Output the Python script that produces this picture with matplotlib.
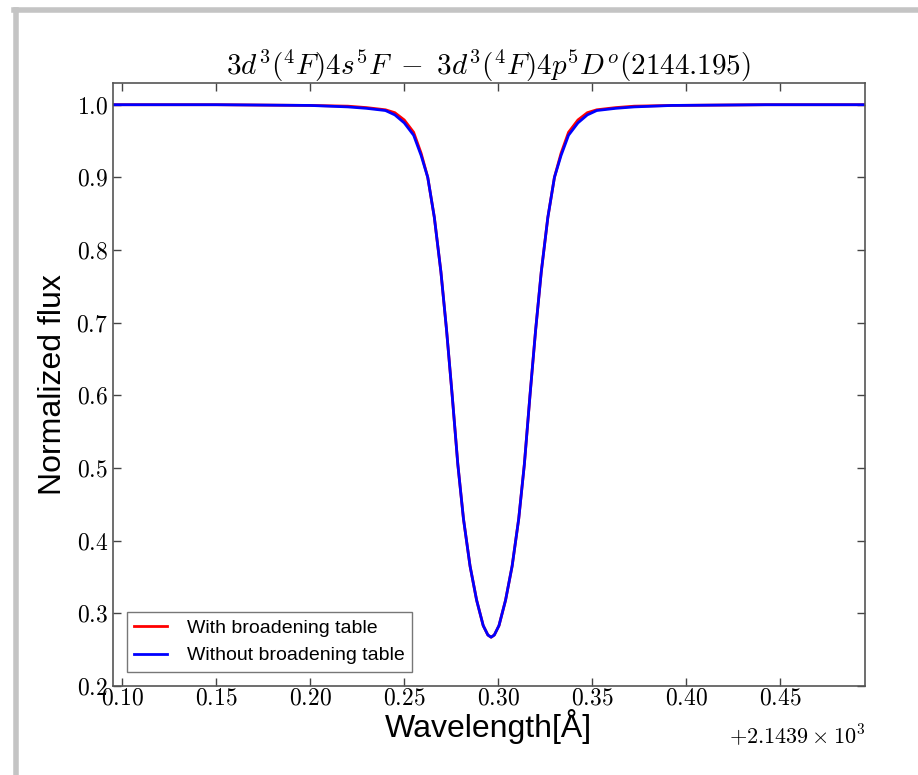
import matplotlib
matplotlib.use("Agg")
import matplotlib.pyplot as plt
from matplotlib.ticker import FuncFormatter, MultipleLocator
from matplotlib.lines import Line2D

# wavelengths given as offsets from 2143.9 A
offset = 2143.9
wl_off = [0.095, 0.150, 0.200, 0.220, 0.230, 0.240, 0.245, 0.250, 0.255, 0.259,
          0.2625, 0.266, 0.2695, 0.2725, 0.2755, 0.2785, 0.2815, 0.2850, 0.2885, 0.2920,
          0.2945, 0.2962, 0.2979,
          0.3004, 0.3039, 0.3074, 0.3109, 0.3139, 0.3169, 0.3199, 0.3229, 0.3264,
          0.3299, 0.3334, 0.3374, 0.3424, 0.3474, 0.3524, 0.3624, 0.3724, 0.3924,
          0.4424, 0.495]
flux_with = [1.0, 1.0, 0.999, 0.998, 0.996, 0.993, 0.989, 0.979, 0.962, 0.933,
             0.900, 0.845, 0.770, 0.690, 0.600, 0.505, 0.430, 0.365, 0.318, 0.283,
             0.270, 0.267, 0.270,
             0.283, 0.318, 0.365, 0.430, 0.505, 0.600, 0.690, 0.770, 0.845,
             0.900, 0.933, 0.962, 0.979, 0.989, 0.993, 0.996, 0.998, 0.999,
             1.0, 1.0]
flux_without = [1.0, 1.0, 0.999, 0.997, 0.995, 0.992, 0.986, 0.975, 0.958, 0.930,
                0.900, 0.845, 0.770, 0.690, 0.600, 0.505, 0.430, 0.365, 0.318, 0.283,
                0.270, 0.267, 0.270,
                0.283, 0.318, 0.365, 0.430, 0.505, 0.600, 0.690, 0.770, 0.845,
                0.900, 0.930, 0.958, 0.975, 0.986, 0.992, 0.995, 0.997, 0.999,
                1.0, 1.0]
labels = ["With broadening table", "Without broadening table"]
title = r"$3d^3(^4F)4s^5F\ -\ 3d^3(^4F)4p^5D^o(2144.195)$"

plt.rcParams['mathtext.fontset'] = 'cm'
plt.rcParams['font.family'] = ['Liberation Sans', 'DejaVu Sans']

wl = [offset + w for w in wl_off]

fig = plt.figure(figsize=(9.18, 7.75), dpi=100)
ax = fig.add_axes([0.123, 0.115, 0.819, 0.778])

ax.plot(wl, flux_with, color='r', lw=2, label=labels[0])
ax.plot(wl, flux_without, color='b', lw=2, label=labels[1])

ax.set_xlim(offset + 0.095, offset + 0.495)
ax.set_ylim(0.2, 1.03)
ax.xaxis.set_major_locator(MultipleLocator(0.05))
ax.yaxis.set_major_locator(MultipleLocator(0.1))
ax.xaxis.set_major_formatter(FuncFormatter(lambda v, p: r"$%.2f$" % (v - offset)))
ax.yaxis.set_major_formatter(FuncFormatter(lambda v, p: r"$%.1f$" % v))
ax.tick_params(direction='in', top=True, right=True, length=6, width=1,
               labelsize=17, color='#444444')
ax.tick_params(axis='x', pad=1)
for s in ax.spines.values():
    s.set_color('#555555')
    s.set_linewidth(1.2)

ax.text(1.0, -0.062, r"$+2.1439\times10^{3}$", transform=ax.transAxes,
        ha='right', va='top', fontsize=16)
ax.set_xlabel(u"Wavelength[\u00c5]", fontsize=23, labelpad=0)
ax.set_ylabel("Normalized flux", fontsize=23, labelpad=6)
ax.set_title(title, fontsize=21, pad=6)

leg = ax.legend(loc='lower left', fontsize=14, handlelength=1.7, frameon=True,
                fancybox=False, borderaxespad=0.7, handletextpad=1.0,
                borderpad=0.4)
leg.get_frame().set_edgecolor('#555555')

# grey frame of the screenshot
fig.add_artist(Line2D([16 / 918, 16 / 918], [0, 1 - 10 / 775], transform=fig.transFigure,
                      color='#c4c4c4', lw=4))
fig.add_artist(Line2D([14 / 918, 1], [1 - 10 / 775, 1 - 10 / 775], transform=fig.transFigure,
                      color='#c4c4c4', lw=4))

fig.savefig("out.png", dpi=100)
